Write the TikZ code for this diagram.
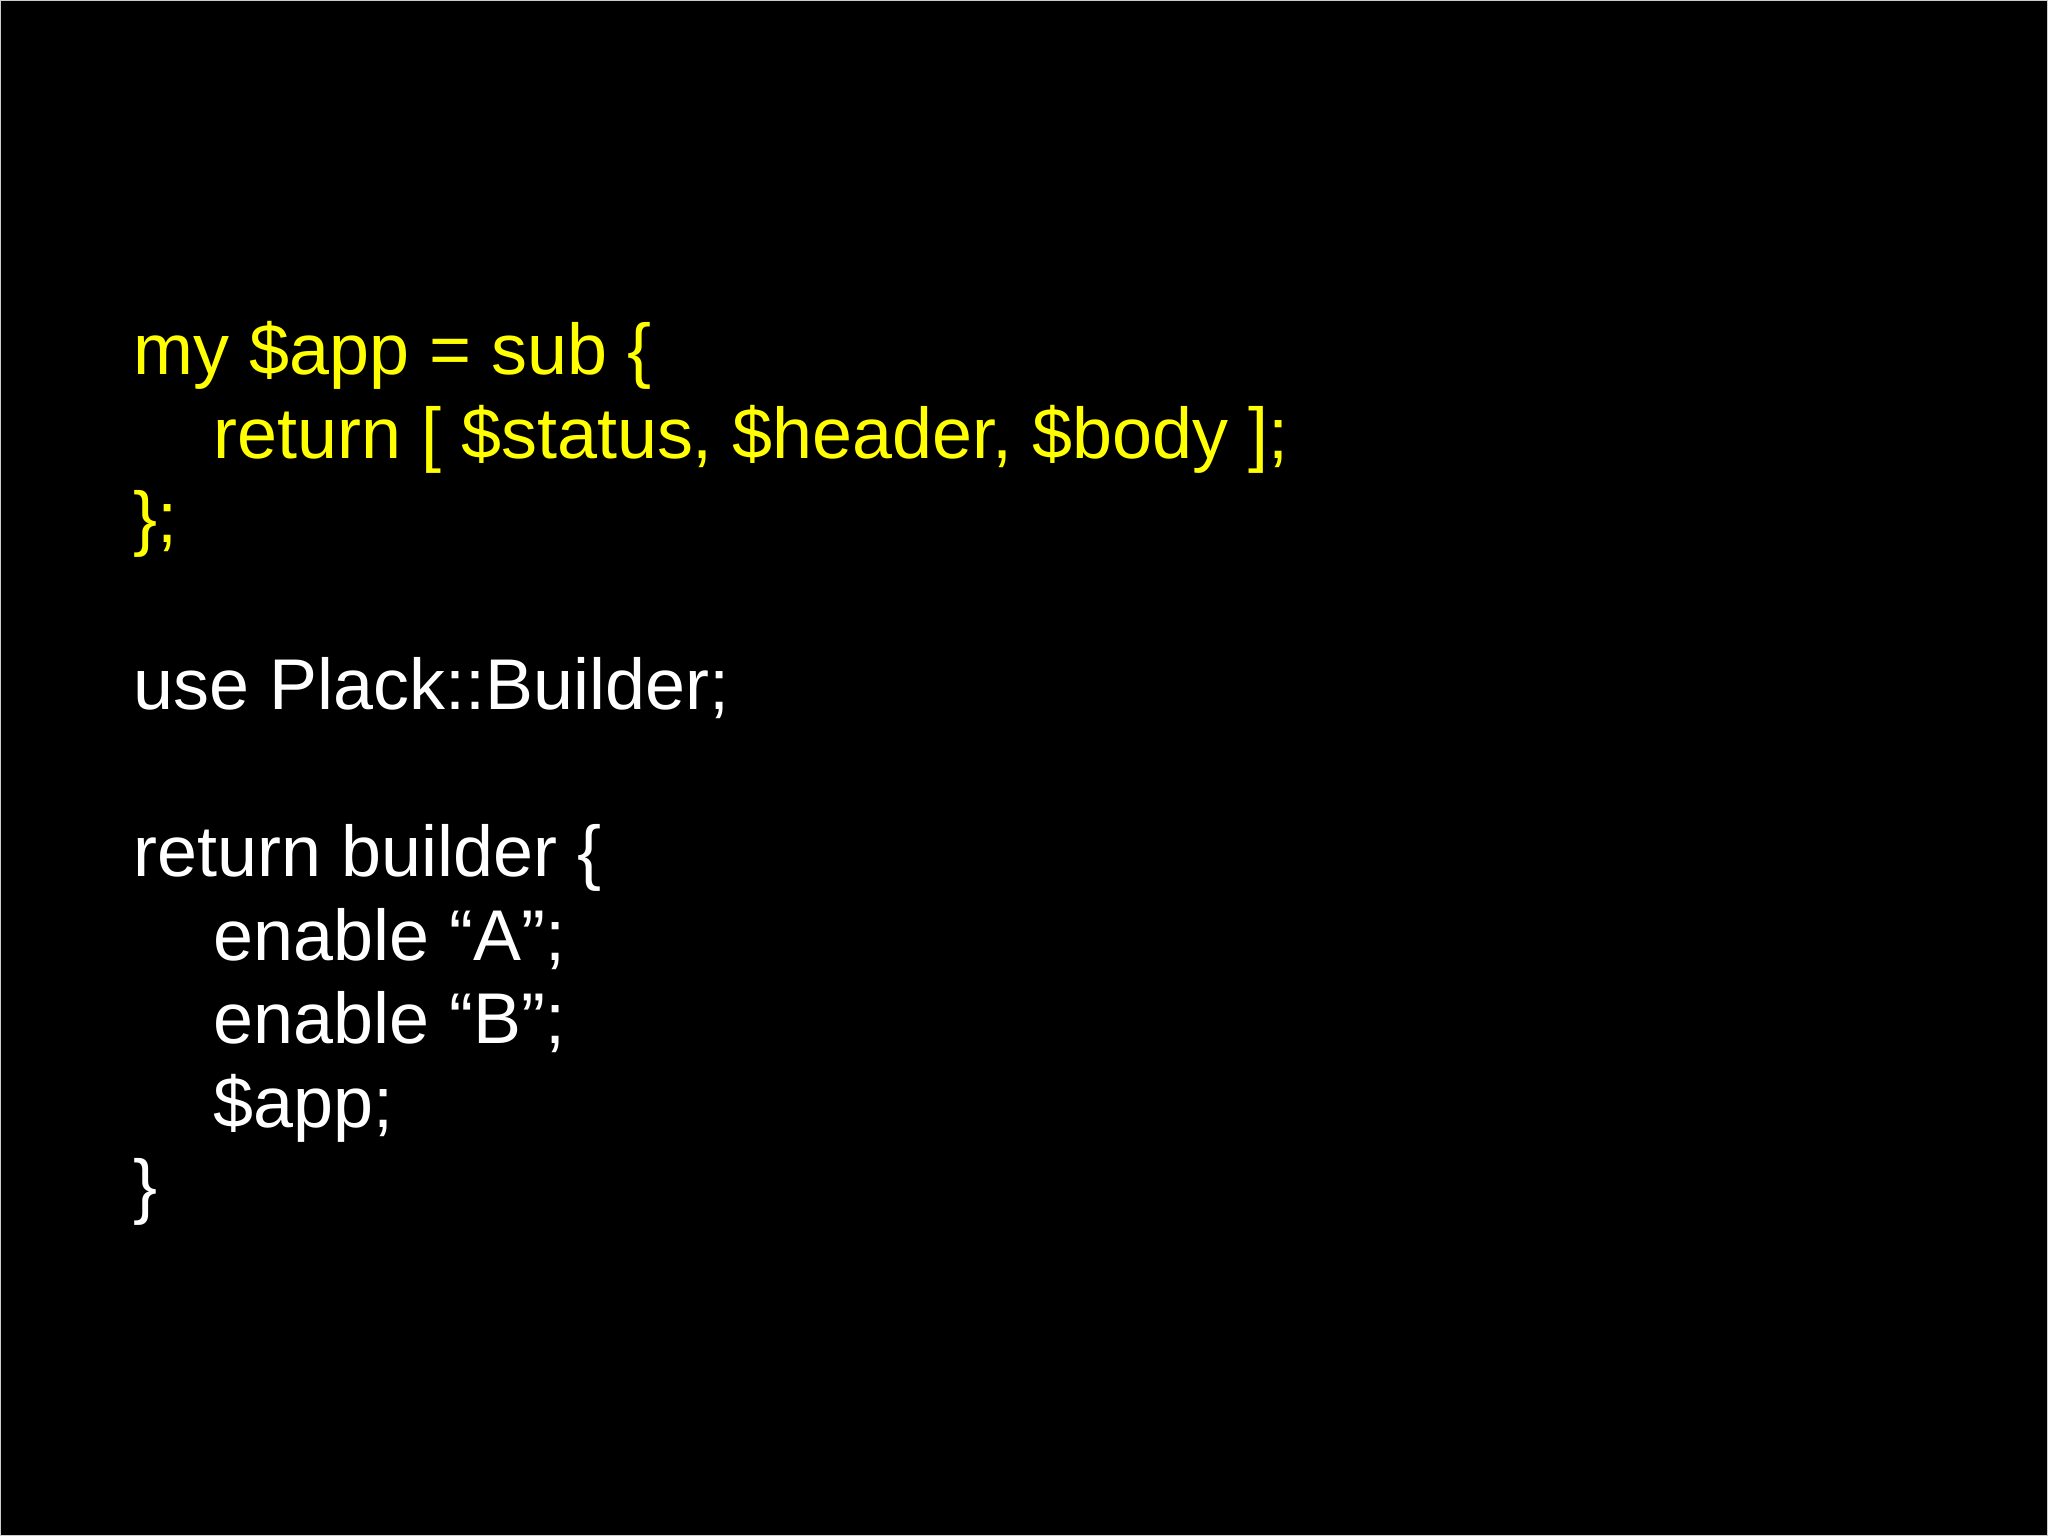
\documentclass[tikz,border=0pt]{standalone}
\usepackage{fontspec}
\setmainfont{Liberation Sans}
\definecolor{codey}{RGB}{255,255,0}
\begin{document}
\begin{tikzpicture}[x=0.013061cm,y=-0.013061cm,
  code/.style={anchor=base west,inner sep=0pt,font=\fontsize{20.45pt}{24pt}\selectfont},
  yl/.style={code,text=codey}, wl/.style={code,text=white}]
\fill[black] (0,0) rectangle (1568,1176);
\draw[gray!40,line width=0.4pt] (0.5,0.5) rectangle (1567.5,1175.5);
\node[yl] (l1) at (102,287) {my \$app = sub \{};
\node[yl] (l2) at (163,351) {return [ \$status, \$header, \$body ];};
\node[yl] (l3) at (102,415) {\};};
\node[wl] (l4) at (102,543) {use Plack::Builder;};
\node[wl] (l5) at (102,671) {return builder \{};
\node[wl] (l6) at (163,735) {enable “A”;};
\node[wl] (l7) at (163,799) {enable “B”;};
\node[wl] (l8) at (163,863) {\$app;};
\node[wl] (l9) at (102,927) {\}};
\end{tikzpicture}
\end{document}
